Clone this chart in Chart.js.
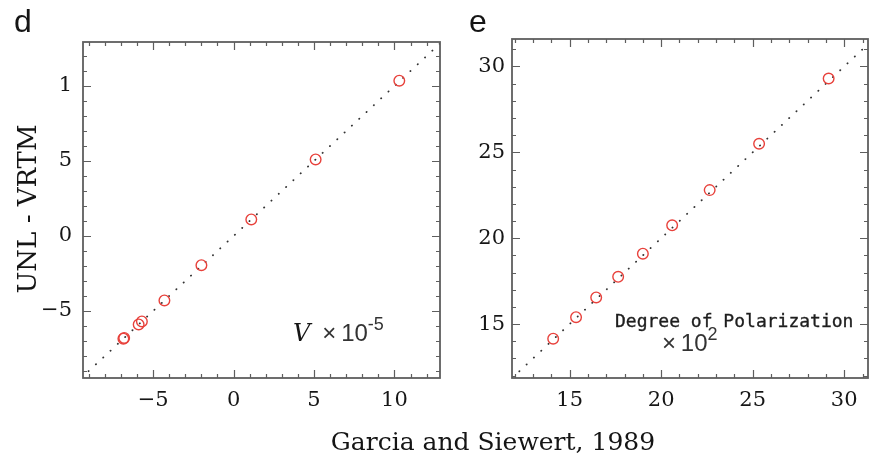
<!DOCTYPE html>
<html>
<head>
<meta charset="utf-8">
<title>UNL-VRTM vs Garcia and Siewert</title>
<script src="https://cdn.jsdelivr.net/npm/chart.js@4.4.0/dist/chart.umd.min.js"></script>
<style>
  html, body { margin: 0; padding: 0; background: #fff; overflow: hidden; }
  #wrap { position: relative; width: 869px; height: 453px; overflow: hidden; }
  canvas { position: absolute; top: 0; }
  .lbl { position: absolute; white-space: nowrap; color: #151515; line-height: 1; }
  .serif { font-family: "DejaVu Serif", serif; }
  .sans { font-family: "Liberation Sans", Arial, sans-serif; }
  .sup { position: relative; top: -11px; font-size: 18px; }
</style>
</head>
<body>
<div id="wrap">
  <canvas id="chartD" width="450" height="453" style="left:0"></canvas>
  <canvas id="chartE" width="440" height="453" style="left:445px"></canvas>

  <div class="lbl sans" style="left:14px;top:5px;font-size:32px">d</div>
  <div class="lbl sans" style="left:469px;top:5px;font-size:32px">e</div>

  <div class="lbl serif" style="left:27px;top:209px;font-size:26px;transform:translate(-50%,-50%) rotate(-90deg)">UNL - VRTM</div>
  <div class="lbl serif" style="left:493px;top:429px;font-size:25px;transform:translateX(-50%)">Garcia and Siewert, 1989</div>

  <div class="lbl" style="left:293px;top:321px;font-size:24px">
    <span class="serif" style="font-style:italic">V</span>&nbsp;
    <span class="sans" style="color:#333">&times;&#8201;10<span class="sup">-5</span></span>
  </div>

  <div class="lbl" style="left:615px;top:312px;font-size:18px;font-family:'DejaVu Sans Mono',monospace;color:#1e1e1e;-webkit-text-stroke:0.35px #1e1e1e">Degree of Polarization</div>
  <div class="lbl sans" style="left:662px;top:331px;font-size:24px;color:#333">&times;&#8201;10<span class="sup">2</span></div>
</div>

<script>
// Panel d: V (x 1e-5), UNL-VRTM against Garcia and Siewert
const vGarcia = [10.3, 5.1, 1.1, -2.0, -4.3, -5.7, -5.9, -6.8, -6.85];
const vUnl    = [10.35, 5.1, 1.1, -1.95, -4.3, -5.7, -5.9, -6.8, -6.85];

// Panel e: degree of polarization (x 1e2)
const dopGarcia = [14.1, 15.35, 16.45, 17.65, 19.0, 20.6, 22.65, 25.35, 29.15];
const dopUnl    = [14.15, 15.4, 16.55, 17.75, 19.1, 20.75, 22.8, 25.5, 29.3];

// tick labels at the major ticks
const dXTicks = [-5, 0, 5, 10];
const dXTickLabels = ['\u22125', '0', '5', '10'];
const dYTicks = [-5, 0, 5, 10];
const dYTickLabels = ['\u22125', '0', '5', '1'];
const eTicks = [15, 20, 25, 30];
const eTickLabels = ['15', '20', '25', '30'];

// axis ranges
const dXRange = [-9.36, 12.83];
const dYRange = [-9.47, 12.93];
const eXRange = [11.85, 31.3];
const eYRange = [11.86, 31.6];

const RED = '#e8413b';
const FRAME = '#5e5e5e';

// box around the plot with inward major/minor ticks on all four sides
const frameTicks = {
  id: 'frameTicks',
  afterDraw(chart) {
    const { ctx, chartArea: a, scales: { x, y } } = chart;
    ctx.save();
    ctx.strokeStyle = FRAME;
    ctx.lineWidth = 1.8;
    ctx.strokeRect(a.left, a.top, a.right - a.left, a.bottom - a.top);
    ctx.lineWidth = 1.2;
    ctx.beginPath();
    for (let v = Math.ceil(x.min); v <= x.max; v++) {
      const px = Math.round(x.getPixelForValue(v)) + 0.5;
      const len = v % 5 === 0 ? 8 : 4;
      ctx.moveTo(px, a.bottom); ctx.lineTo(px, a.bottom - len);
      ctx.moveTo(px, a.top); ctx.lineTo(px, a.top + len);
    }
    for (let v = Math.ceil(y.min); v <= y.max; v++) {
      const py = Math.round(y.getPixelForValue(v)) + 0.5;
      const len = v % 5 === 0 ? 8 : 4;
      ctx.moveTo(a.left, py); ctx.lineTo(a.left + len, py);
      ctx.moveTo(a.right, py); ctx.lineTo(a.right - len, py);
    }
    ctx.stroke();
    ctx.restore();
  }
};

function toPoints(xs, ys) {
  return xs.map((v, i) => ({ x: v, y: ys[i] }));
}

function axis(range, ticks, labels, opts) {
  return {
    type: 'linear',
    position: opts.position,
    min: range[0],
    max: range[1],
    grid: { display: false, drawTicks: false },
    border: { display: false },
    ticks: {
      stepSize: 1,
      autoSkip: false,
      maxRotation: 0,
      padding: opts.padding,
      color: '#161616',
      font: { family: 'DejaVu Serif', size: 21 },
      callback: (v) => {
        const i = ticks.indexOf(v);
        return i >= 0 ? labels[i] : '';
      }
    },
    afterFit: opts.afterFit
  };
}

function makePanel(id, xs, ys, xRange, yRange, xTicks, xLabels, yTicks, yLabels, box) {
  // y = x reference line spanning the whole plot
  const lo = Math.min(xRange[0], yRange[0]);
  const hi = Math.max(xRange[1], yRange[1]);
  return new Chart(document.getElementById(id), {
    type: 'scatter',
    data: {
      datasets: [
        {
          data: toPoints(xs, ys),
          pointStyle: 'circle',
          pointRadius: 5.3,
          pointBorderWidth: 1.4,
          borderColor: RED,
          backgroundColor: 'rgba(0,0,0,0)',
          order: 1
        },
        {
          type: 'line',
          data: [{ x: lo, y: lo }, { x: hi, y: hi }],
          borderColor: '#333',
          borderWidth: 1.8,
          borderDash: [0.2, 9.8],
          borderCapStyle: 'round',
          pointRadius: 0,
          fill: false,
          order: 2
        }
      ]
    },
    options: {
      responsive: false,
      animation: false,
      layout: { padding: { top: box.top, right: box.right, left: 0, bottom: 0 } },
      plugins: { legend: { display: false }, tooltip: { enabled: false } },
      scales: {
        x: axis(xRange, xTicks, xLabels, {
          position: 'bottom', padding: 10,
          afterFit: (s) => { s.height = box.xHeight; }
        }),
        y: axis(yRange, yTicks, yLabels, {
          position: 'left', padding: box.yPad,
          afterFit: (s) => { s.width = box.yWidth; }
        })
      }
    },
    plugins: [frameTicks]
  });
}

makePanel('chartD', vGarcia, vUnl, dXRange, dYRange, dXTicks, dXTickLabels, dYTicks, dYTickLabels,
  { top: 42, right: 9, xHeight: 75, yWidth: 83, yPad: 11 });
makePanel('chartE', dopGarcia, dopUnl, eXRange, eYRange, eTicks, eTickLabels, eTicks, eTickLabels,
  { top: 39, right: 17, xHeight: 75, yWidth: 67, yPad: 7 });
</script>
</body>
</html>
